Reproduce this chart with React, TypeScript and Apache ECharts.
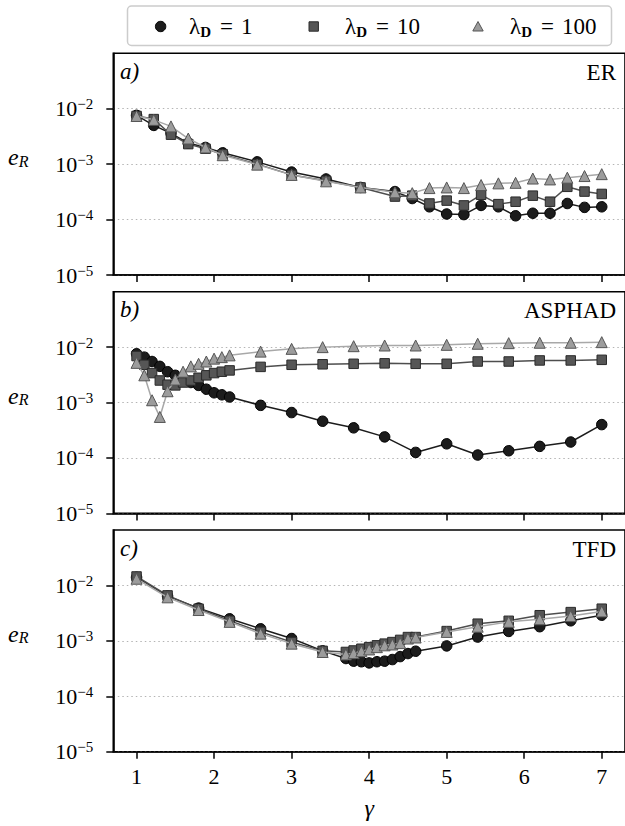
import React, { useEffect, useRef } from 'react';
import * as echarts from 'echarts';

const xTicks = [1, 2, 3, 4, 5, 6, 7];
const yTicks = [1e-5, 1e-4, 1e-3, 1e-2];
const lambdaValues = ['1', '10', '100'];
const panelLabels = ['a)', 'b)', 'c)'];
const panelTitles = ['ER', 'ASPHAD', 'TFD'];

// Panel a) ER
const gammaA = [1.0, 1.222, 1.444, 1.667, 1.889, 2.111, 2.556, 3.0, 3.444, 3.889, 4.333, 4.556, 4.778, 5.0, 5.222, 5.444, 5.667, 5.889, 6.111, 6.333, 6.556, 6.778, 7.0];
const aL1 = [7.6e-3, 5.0e-3, 3.6e-3, 2.4e-3, 2.0e-3, 1.6e-3, 1.1e-3, 7.2e-4, 5.4e-4, 3.8e-4, 3.2e-4, 2.4e-4, 1.7e-4, 1.26e-4, 1.23e-4, 1.8e-4, 1.7e-4, 1.17e-4, 1.3e-4, 1.3e-4, 1.95e-4, 1.66e-4, 1.7e-4];
const aL10 = [7.4e-3, 6.5e-3, 3.4e-3, 2.3e-3, 1.9e-3, 1.5e-3, 1.0e-3, 6.4e-4, 5.0e-4, 3.8e-4, 2.6e-4, 2.7e-4, 1.95e-4, 2.2e-4, 1.8e-4, 2.8e-4, 1.9e-4, 2.1e-4, 2.7e-4, 2.1e-4, 3.9e-4, 3.2e-4, 2.9e-4];
const aL100 = [7.4e-3, 6.3e-3, 4.8e-3, 2.9e-3, 2.0e-3, 1.45e-3, 9.8e-4, 6.4e-4, 4.9e-4, 3.8e-4, 3.1e-4, 3.0e-4, 3.7e-4, 3.8e-4, 3.7e-4, 4.2e-4, 4.5e-4, 4.6e-4, 5.5e-4, 5.3e-4, 5.7e-4, 6.1e-4, 6.6e-4];

// Panel b) ASPHAD
const gammaB = [1.0, 1.1, 1.2, 1.3, 1.4, 1.5, 1.6, 1.7, 1.8, 1.9, 2.0, 2.1, 2.2, 2.6, 3.0, 3.4, 3.8, 4.2, 4.6, 5.0, 5.4, 5.8, 6.2, 6.6, 7.0];
const bL1 = [7.6e-3, 6.6e-3, 5.5e-3, 4.5e-3, 3.6e-3, 3.1e-3, 2.6e-3, 2.3e-3, 2.04e-3, 1.74e-3, 1.5e-3, 1.38e-3, 1.26e-3, 8.9e-4, 6.6e-4, 4.6e-4, 3.5e-4, 2.4e-4, 1.26e-4, 1.8e-4, 1.13e-4, 1.35e-4, 1.62e-4, 1.94e-4, 4.0e-4];
const bL10 = [6.9e-3, 4.8e-3, 3.4e-3, 2.5e-3, 2.1e-3, 2.04e-3, 2.3e-3, 2.5e-3, 2.8e-3, 3.1e-3, 3.4e-3, 3.6e-3, 3.8e-3, 4.4e-3, 4.8e-3, 4.9e-3, 5.0e-3, 5.1e-3, 5.0e-3, 5.0e-3, 5.5e-3, 5.5e-3, 5.75e-3, 5.75e-3, 5.9e-3];
const bL100 = [5.2e-3, 3.1e-3, 1.1e-3, 5.5e-4, 1.6e-3, 2.6e-3, 3.6e-3, 4.5e-3, 5.0e-3, 5.5e-3, 6.2e-3, 6.6e-3, 7.1e-3, 8.3e-3, 9.3e-3, 1.0e-2, 1.04e-2, 1.07e-2, 1.07e-2, 1.1e-2, 1.15e-2, 1.18e-2, 1.2e-2, 1.2e-2, 1.23e-2];

// Panel c) TFD
const gammaC = [1.0, 1.4, 1.8, 2.2, 2.6, 3.0, 3.4, 3.7, 3.8, 3.9, 4.0, 4.1, 4.2, 4.3, 4.4, 4.5, 4.6, 5.0, 5.4, 5.8, 6.2, 6.6, 7.0];
const cL1 = [1.4e-2, 6.4e-3, 3.9e-3, 2.5e-3, 1.65e-3, 1.1e-3, 6.6e-4, 4.8e-4, 4.3e-4, 4.2e-4, 4.0e-4, 4.2e-4, 4.3e-4, 4.6e-4, 5.2e-4, 5.9e-4, 6.5e-4, 8.1e-4, 1.17e-3, 1.48e-3, 1.8e-3, 2.3e-3, 2.9e-3];
const cL10 = [1.45e-2, 6.6e-3, 3.8e-3, 2.3e-3, 1.45e-3, 9.5e-4, 6.6e-4, 6.3e-4, 6.7e-4, 7.2e-4, 7.7e-4, 8.3e-4, 8.9e-4, 9.5e-4, 1.04e-3, 1.17e-3, 1.17e-3, 1.5e-3, 2.04e-3, 2.3e-3, 2.9e-3, 3.3e-3, 3.8e-3];
const cL100 = [1.32e-2, 6.1e-3, 3.6e-3, 2.2e-3, 1.35e-3, 8.9e-4, 6.3e-4, 5.7e-4, 6.0e-4, 6.5e-4, 7.0e-4, 7.7e-4, 8.3e-4, 8.6e-4, 9.1e-4, 1.1e-3, 1.15e-3, 1.45e-3, 1.8e-3, 2.2e-3, 2.45e-3, 2.8e-3, 3.4e-3];

const panels = [
  { gamma: gammaA, values: [aL1, aL10, aL100] },
  { gamma: gammaB, values: [bL1, bL10, bL100] },
  { gamma: gammaC, values: [cL1, cL10, cL100] },
];

const FONT = "'Liberation Serif', 'Times New Roman', serif";
const symbols = ['circle', 'rect', 'triangle'];
const symbolSizes = [10.5, 9.5, 11];
const fills = ['#1c1c1c', '#565656', '#9c9c9c'];
const edges = ['#000000', '#2a2a2a', '#555555'];
const lineColors = ['#1c1c1c', '#4e4e4e', '#a8a8a8'];

const GRID_LEFT = 113.3;
const GRID_WIDTH = 513.3;
const GRID_TOPS = [53.3, 291.7, 530];
const GRID_HEIGHT = 221.7;

function supMinus(v: number): string {
  const e = Math.round(Math.log10(v));
  return `{b|10}{s|−${Math.abs(e)}}`;
}

export default function App() {
  const ref = useRef<HTMLDivElement>(null);
  useEffect(() => {
    if (!ref.current) return;
    const chart = echarts.init(ref.current, undefined, { renderer: 'svg' });

    const grid = GRID_TOPS.map((t) => ({
      left: GRID_LEFT,
      top: t,
      width: GRID_WIDTH,
      height: GRID_HEIGHT,
      show: true,
      borderColor: '#000',
      borderWidth: 1.6,
      backgroundColor: 'transparent',
    }));

    const xAxis = [0, 1, 2].map((i) => ({
      type: 'value',
      gridIndex: i,
      min: 0.7,
      max: 7.3,
      axisLine: { show: true, onZero: false, lineStyle: { color: '#000', width: 1.6 } },
      axisTick: { show: true, customValues: xTicks, length: 7, lineStyle: { color: '#000', width: 1.5 } },
      axisLabel: {
        show: i === 2,
        customValues: xTicks,
        fontSize: 22,
        fontFamily: FONT,
        color: '#000',
        margin: 14,
      },
      splitLine: { show: false },
      name: i === 2 ? 'γ' : '',
      nameLocation: 'middle',
      nameGap: 44,
      nameTextStyle: { fontSize: 24, fontStyle: 'italic', fontFamily: FONT, color: '#000' },
    }));

    const yAxis = [0, 1, 2].map((i) => ({
      type: 'log',
      logBase: 10,
      gridIndex: i,
      min: 1e-5,
      max: 0.1,
      axisLine: { show: true, lineStyle: { color: '#000', width: 1.6 } },
      axisTick: { show: true, customValues: yTicks, length: 7, lineStyle: { color: '#000', width: 1.5 } },
      axisLabel: {
        show: true,
        customValues: yTicks,
        margin: 20,
        formatter: (v: number) => supMinus(v),
        rich: {
          b: { fontSize: 22, fontFamily: FONT, color: '#000', lineHeight: 24 },
          s: { fontSize: 15, fontFamily: FONT, color: '#000', verticalAlign: 'top', lineHeight: 15 },
        },
      },
      splitLine: { show: true, lineStyle: { color: '#b4b4b4', width: 1, type: [1.5, 3] } },
    }));

    const series: any[] = [];
    panels.forEach((p, pi) => {
      p.values.forEach((vals, si) => {
        series.push({
          type: 'line',
          name: `λD = ${lambdaValues[si]}`,
          xAxisIndex: pi,
          yAxisIndex: pi,
          data: p.gamma.map((g, k) => [g, vals[k]]),
          symbol: symbols[si],
          symbolSize: symbolSizes[si],
          showSymbol: true,
          itemStyle: { color: fills[si], borderColor: edges[si], borderWidth: 1 },
          lineStyle: { color: lineColors[si], width: 1.5 },
          z: 2 + si,
          clip: false,
        });
      });
    });

    const graphic: any[] = [];
    graphic.push({
      type: 'rect',
      shape: { x: 127.5, y: 6, width: 484, height: 39.5, r: 4 },
      style: { fill: '#fff', stroke: '#cccccc', lineWidth: 1.5 },
      z: 100,
    });
    graphic.push({ type: 'circle', shape: { cx: 160.6, cy: 26.5, r: 5.2 }, style: { fill: fills[0], stroke: edges[0], lineWidth: 1 }, z: 101 });
    graphic.push({ type: 'rect', shape: { x: 309, y: 21.8, width: 9.4, height: 9.4 }, style: { fill: fills[1], stroke: edges[1], lineWidth: 1 }, z: 101 });
    graphic.push({ type: 'polygon', shape: { points: [[478, 21.5], [483.2, 31], [472.8, 31]] }, style: { fill: fills[2], stroke: edges[2], lineWidth: 1 }, z: 101 });
    const legendX = [189, 345, 510];
    lambdaValues.forEach((lv, i) => {
      graphic.push({
        type: 'text',
        x: legendX[i],
        y: 26.5,
        z: 101,
        style: {
          text: `{l|λ}{d|D}{q|=}{e|${lv}}`,
          verticalAlign: 'middle',
          align: 'left',
          rich: {
            l: { fontSize: 23, fontFamily: FONT, fill: '#000', lineHeight: 26 },
            d: { fontSize: 15, fontFamily: FONT, fontWeight: 'bold', fill: '#000', verticalAlign: 'bottom', lineHeight: 16 },
            q: { fontSize: 23, fontFamily: FONT, fill: '#000', lineHeight: 26, padding: [0, 0, 0, 9] },
            e: { fontSize: 23, fontFamily: FONT, fill: '#000', lineHeight: 26, padding: [0, 0, 0, 8] },
          },
        },
      });
    });

    GRID_TOPS.forEach((t, i) => {
      graphic.push({
        type: 'text',
        x: 120,
        y: t + 18,
        z: 50,
        style: { text: panelLabels[i], fontSize: 23, fontStyle: 'italic', fontFamily: FONT, fill: '#000', verticalAlign: 'middle', align: 'left' },
      });
      graphic.push({
        type: 'text',
        x: 616,
        y: t + 19,
        z: 50,
        style: { text: panelTitles[i], fontSize: 23, fontFamily: FONT, fill: '#000', verticalAlign: 'middle', align: 'right' },
      });
      graphic.push({
        type: 'text',
        x: 8,
        y: t + GRID_HEIGHT / 2 - 7,
        z: 50,
        style: {
          text: '{e|e}{r|R}',
          verticalAlign: 'middle',
          align: 'left',
          rich: {
            e: { fontSize: 24, fontStyle: 'italic', fontFamily: FONT, fill: '#000', lineHeight: 24 },
            r: { fontSize: 16, fontStyle: 'italic', fontFamily: FONT, fill: '#000', verticalAlign: 'bottom', lineHeight: 14 },
          },
        },
      });
    });

    chart.setOption({
      animation: false,
      backgroundColor: '#fff',
      grid,
      xAxis,
      yAxis,
      series,
      graphic,
    } as any);

    return () => chart.dispose();
  }, []);

  return (
    <div
      ref={ref}
      style={{ position: 'absolute', left: 0, top: 0, width: 625, height: 826 }}
    />
  );
}
